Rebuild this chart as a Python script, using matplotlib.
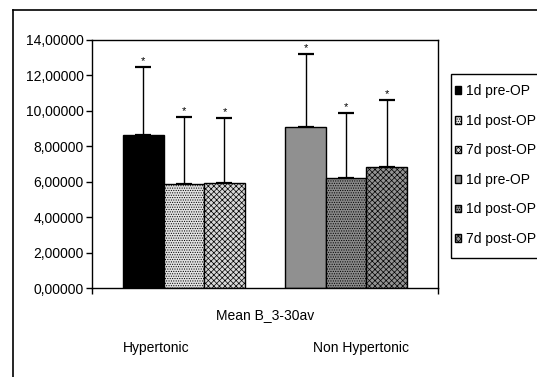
import numpy as np
import matplotlib
matplotlib.use('Agg')
import matplotlib.pyplot as plt
from matplotlib.lines import Line2D
from matplotlib.patches import Rectangle
from matplotlib.ticker import FuncFormatter

plt.rcParams['font.family'] = ['Liberation Sans', 'DejaVu Sans']
plt.rcParams['hatch.linewidth'] = 0.5

# data
series_labels = ['1d pre-OP', '1d post-OP', '7d post-OP',
                 '1d pre-OP', '1d post-OP', '7d post-OP']
means = [8.64, 5.87, 5.93, 9.09, 6.21, 6.83]
err_tops = [12.48, 9.66, 9.60, 13.21, 9.88, 10.62]
y_ticks = [0, 2, 4, 6, 8, 10, 12, 14]
category = 'Mean B_3-30av'
group_labels = ['Hypertonic', 'Non Hypertonic']

positions = [0, 1, 2, 4, 5, 6]
faces = ['#000000', '#e2e2e2', '#d8d8d8', '#909090', '#8a8a8a', '#939393']
hatches = [None, '.......', 'xxxxxx', None, '.......', 'xxxxxx']

W, H = 537, 377
fig = plt.figure(figsize=(W / 100, H / 100), dpi=100, facecolor='white')
ax = fig.add_axes([92/W, 1-288/H, (438-92)/W, (288-40)/H])

errs = np.array(err_tops) - np.array(means)
for i in range(len(means)):
    ax.bar(positions[i], means[i], width=1.0, color=faces[i], hatch=hatches[i],
           edgecolor='black', linewidth=1.0, label=series_labels[i], zorder=2)
    ax.errorbar(positions[i], means[i], yerr=[[0], [errs[i]]], fmt='none',
                ecolor='black', elinewidth=1.0, capsize=5.5, capthick=1.6, zorder=1)
    # significance star just above the cap
    ax.annotate('*', (positions[i], err_tops[i]), xytext=(0, 4.5),
                textcoords='offset points', ha='center', va='center', fontsize=8)

ax.set_xlim(-1.27, 7.27)
ax.set_ylim(0, 14)
ax.set_yticks(y_ticks)
ax.yaxis.set_major_formatter(FuncFormatter(lambda v, p: f'{v:.5f}'.replace('.', ',')))
ax.set_xticks([-1.27, 7.27])
ax.set_xticklabels(['', ''])
ax.tick_params(axis='both', direction='out', length=4, width=1, labelsize=10, pad=2, colors='black')
for s in ax.spines.values():
    s.set_linewidth(1.0)
    s.set_color('black')

# category and group labels
fig.text(265/W, 1-315/H, category, ha='center', va='center', fontsize=10)
fig.text(156/W, 1-348/H, group_labels[0], ha='center', va='center', fontsize=10)
fig.text(361/W, 1-348/H, group_labels[1], ha='center', va='center', fontsize=10)

# outer chart frame
fig.add_artist(Line2D([13/W, 13/W], [0, 1-10/H], color='black', lw=1.2,
                      transform=fig.transFigure))
fig.add_artist(Line2D([13/W, 1], [1-10/H, 1-10/H], color='black', lw=1.2,
                      transform=fig.transFigure))

# legend box drawn separately so it can run off the right edge like the original
fig.add_artist(Rectangle((451/W, 1-258/H), (560-451)/W, (258-74)/H, fill=False,
                         edgecolor='black', lw=1.0, transform=fig.transFigure))
leg = ax.legend(loc='upper left', bbox_to_anchor=(451/W, 1-80/H),
                bbox_transform=fig.transFigure, borderaxespad=0, frameon=False,
                fontsize=10, handlelength=0.45, handleheight=0.45, handletextpad=0.3,
                labelspacing=1.12, borderpad=0.3)

fig.savefig('out.png', dpi=100)
